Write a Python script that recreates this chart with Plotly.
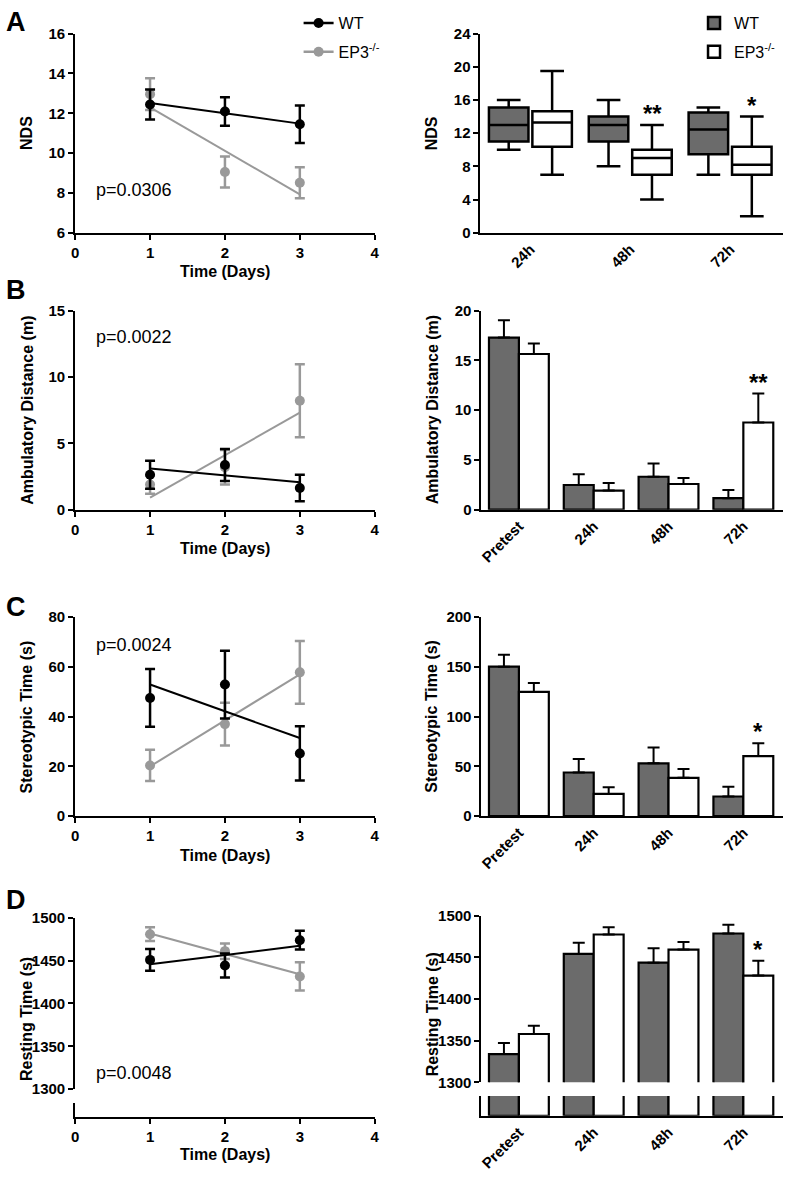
import plotly.graph_objects as go

W, H = 788, 1180
FONT = "Liberation Sans"
BLACK = "#000000"
GRAY = "#999999"
WT_FILL = "#6b6b6b"

# ---------------- data ----------------
days = [1, 2, 3]
fit_days = [1, 3]

# A: NDS
nds_wt_mean = [12.44, 12.09, 11.45]
nds_wt_sem = [0.75, 0.72, 0.94]
nds_ep_mean = [12.96, 9.05, 8.51]
nds_ep_sem = [0.8, 0.78, 0.78]
nds_wt_fit = [12.52, 11.48]
nds_ep_fit = [12.3, 7.93]

box_times = ["24h", "48h", "72h"]
box_wt_min = [10, 8, 7]
box_wt_q1 = [11, 11, 9.45]
box_wt_med = [13, 13, 12.45]
box_wt_q3 = [15.1, 14, 14.5]
box_wt_max = [16, 16, 15.1]
box_ep_min = [7, 4, 2]
box_ep_q1 = [10.35, 7, 7]
box_ep_med = [13.3, 9, 8.2]
box_ep_q3 = [14.65, 10, 10.35]
box_ep_max = [19.5, 13, 14]
box_sig = ["", "**", "*"]

# B: Ambulatory distance
amb_wt_mean = [2.63, 3.37, 1.64]
amb_wt_sem = [1.05, 1.2, 1.0]
amb_ep_mean = [1.9, 3.2, 8.21]
amb_ep_sem = [0.7, 1.3, 2.75]
amb_wt_fit = [3.1, 2.06]
amb_ep_fit = [0.9, 7.31]

bar_times = ["Pretest", "24h", "48h", "72h"]
amb_bar_wt = [17.29, 2.48, 3.31, 1.16]
amb_bar_wt_err = [1.75, 1.09, 1.32, 0.82]
amb_bar_ep = [15.64, 1.92, 2.58, 8.76]
amb_bar_ep_err = [1.05, 0.76, 0.6, 2.91]
amb_sig = ["", "", "", "**"]

# C: Stereotypic time
ste_wt_mean = [47.5, 52.9, 25.2]
ste_wt_sem = [11.6, 13.6, 10.9]
ste_ep_mean = [20.4, 37.0, 57.8]
ste_ep_sem = [6.3, 8.6, 12.6]
ste_wt_fit = [52.9, 31.4]
ste_ep_fit = [20.0, 57.0]

ste_bar_wt = [150.2, 43.9, 53.1, 19.8]
ste_bar_wt_err = [11.9, 13.5, 15.8, 9.9]
ste_bar_ep = [124.8, 22.4, 38.6, 60.4]
ste_bar_ep_err = [8.9, 6.6, 8.9, 12.9]
ste_sig = ["", "", "", "*"]

# D: Resting time
rest_wt_mean = [1450.8, 1444.2, 1473.8]
rest_wt_sem = [12.7, 14.0, 11.0]
rest_ep_mean = [1480.8, 1461.0, 1431.5]
rest_ep_sem = [8.0, 9.0, 16.5]
rest_wt_fit = [1445.8, 1467.3]
rest_ep_fit = [1481.5, 1434.0]

rest_bar_wt = [1333.9, 1454.2, 1443.6, 1478.7]
rest_bar_wt_err = [13.4, 13.4, 17.4, 10.6]
rest_bar_ep = [1358.0, 1477.5, 1459.4, 1428.2]
rest_bar_ep_err = [9.9, 8.7, 9.1, 17.8]
rest_sig = ["", "", "", "*"]

p_values = ["p=0.0306", "p=0.0022", "p=0.0024", "p=0.0048"]
panel_letters = ["A", "B", "C", "D"]


# ---------------- helpers ----------------
def fx(p):
    return p / W


def fy(p):
    return 1 - p / H


tick_font = dict(family=FONT, size=15, color=BLACK, weight="bold")

fig = go.Figure()
annotations = []


def base_axis(**kw):
    d = dict(showline=True, linewidth=2, linecolor=BLACK, showgrid=False,
             zeroline=False, ticks="outside", ticklen=5, tickwidth=2,
             tickcolor=BLACK, tickfont=tick_font, fixedrange=True)
    d.update(kw)
    return d


def line_panel(ax, wt_m, wt_s, ep_m, ep_s, wt_fit, ep_fit):
    xa, ya = ax
    for m, s, fit, col in [(ep_m, ep_s, ep_fit, GRAY), (wt_m, wt_s, wt_fit, BLACK)]:
        fig.add_trace(go.Scatter(
            x=days, y=m, mode="markers", xaxis=xa, yaxis=ya,
            marker=dict(color=col, size=10),
            error_y=dict(type="data", array=s, visible=True, color=col,
                         thickness=2.5, width=5),
            showlegend=False, hoverinfo="skip"))
        fig.add_trace(go.Scatter(
            x=fit_days, y=fit, mode="lines", xaxis=xa, yaxis=ya,
            line=dict(color=col, width=2), showlegend=False, hoverinfo="skip"))


def bar_panel(ax, wt, wt_e, ep, ep_e):
    xa, ya = ax
    for vals, errs, fill, og in [(wt, wt_e, WT_FILL, "a"), (ep, ep_e, "white", "b")]:
        fig.add_trace(go.Bar(
            x=bar_times, y=vals, xaxis=xa, yaxis=ya, offsetgroup=og,
            marker=dict(color=fill, line=dict(color=BLACK, width=2.2)),
            error_y=dict(type="data", array=errs, arrayminus=[0] * len(errs),
                         symmetric=False, visible=True, color=BLACK,
                         thickness=2, width=6),
            showlegend=False, hoverinfo="skip"))


def sig_annots(xref, yref, cats, tops, sigs, xshift, yshift):
    for c, t, s in zip(cats, tops, sigs):
        if s:
            annotations.append(dict(
                x=c, y=t, xref=xref, yref=yref, text=s, showarrow=False,
                xanchor="center", yanchor="bottom", xshift=xshift, yshift=yshift,
                font=dict(family=FONT, size=24, color=BLACK, weight="bold")))


# ---- panel A ----
line_panel(("x", "y"), nds_wt_mean, nds_wt_sem, nds_ep_mean, nds_ep_sem,
           nds_wt_fit, nds_ep_fit)

for q1, med, q3, lo, hi, fill, name, og in [
        (box_wt_q1, box_wt_med, box_wt_q3, box_wt_min, box_wt_max, WT_FILL, "WT", "a"),
        (box_ep_q1, box_ep_med, box_ep_q3, box_ep_min, box_ep_max, "white", "EP3<sup>-/-</sup>", "b")]:
    fig.add_trace(go.Box(
        x=box_times, q1=q1, median=med, q3=q3, lowerfence=lo, upperfence=hi,
        xaxis="x2", yaxis="y2", offsetgroup=og, name=name, legendgroup="box" + og,
        fillcolor=fill, line=dict(color=BLACK, width=2.5), whiskerwidth=0.6,
        boxpoints=False, showlegend=True, legend="legend2", hoverinfo="skip"))

sig_annots("x2", "y2", box_times, box_ep_max, box_sig, 22, -4)

# ---- panel B ----
line_panel(("x3", "y3"), amb_wt_mean, amb_wt_sem, amb_ep_mean, amb_ep_sem,
           amb_wt_fit, amb_ep_fit)
bar_panel(("x4", "y4"), amb_bar_wt, amb_bar_wt_err, amb_bar_ep, amb_bar_ep_err)
sig_annots("x4", "y4", bar_times, [v + e for v, e in zip(amb_bar_ep, amb_bar_ep_err)],
           amb_sig, 15, -4)

# ---- panel C ----
line_panel(("x5", "y5"), ste_wt_mean, ste_wt_sem, ste_ep_mean, ste_ep_sem,
           ste_wt_fit, ste_ep_fit)
bar_panel(("x6", "y6"), ste_bar_wt, ste_bar_wt_err, ste_bar_ep, ste_bar_ep_err)
sig_annots("x6", "y6", bar_times, [v + e for v, e in zip(ste_bar_ep, ste_bar_ep_err)],
           ste_sig, 15, -4)

# ---- panel D ----
line_panel(("x7", "y7"), rest_wt_mean, rest_wt_sem, rest_ep_mean, rest_ep_sem,
           rest_wt_fit, rest_ep_fit)
fig.add_trace(go.Scatter(x=[None], y=[None], xaxis="x7", yaxis="y8",
                         showlegend=False, hoverinfo="skip"))
bar_panel(("x8", "y9"), rest_bar_wt, rest_bar_wt_err, rest_bar_ep, rest_bar_ep_err)
# lower stub of the broken axis: same bars, clipped
for vals, fill, og in [(rest_bar_wt, WT_FILL, "a"), (rest_bar_ep, "white", "b")]:
    fig.add_trace(go.Bar(
        x=bar_times, y=vals, xaxis="x8", yaxis="y10", offsetgroup=og,
        marker=dict(color=fill, line=dict(color=BLACK, width=2.2)),
        showlegend=False, hoverinfo="skip"))
sig_annots("x8", "y9", bar_times, [v + e for v, e in zip(rest_bar_ep, rest_bar_ep_err)],
           rest_sig, 15, -4)

# legend entries for the line panels
for col, name, grp in [(BLACK, "WT", "la"), (GRAY, "EP3<sup>-/-</sup>", "lb")]:
    fig.add_trace(go.Scatter(
        x=[None], y=[None], mode="lines+markers", xaxis="x", yaxis="y", name=name,
        legendgroup=grp,
        line=dict(color=col, width=2.5), marker=dict(color=col, size=10),
        showlegend=True, legend="legend"))

# ---------------- axes ----------------
LX = [72, 375]
RX = [482, 788]
rows = {"A": (25, 227), "B": (306, 508), "C": (617, 819)}

layout_axes = {}
left_ranges = {"A": ([6, 16], 2), "B": ([0, 15], 5), "C": ([0, 80], 20)}
right_ranges = {"A": ([0, 24], 4), "B": ([0, 20], 5), "C": ([0, 200], 50)}
idx = {"A": (1, 2), "B": (3, 4), "C": (5, 6)}

for key, (top, bot) in rows.items():
    li, ri = idx[key]
    lname = "" if li == 1 else str(li)
    rname = str(ri)
    rng, dt = left_ranges[key]
    layout_axes["xaxis" + lname] = base_axis(
        domain=[fx(LX[0]), fx(LX[1])], range=[0, 4], tickvals=[0, 1, 2, 3, 4],
        anchor="y" + lname)
    layout_axes["yaxis" + lname] = base_axis(
        domain=[fy(bot), fy(top)], range=rng, dtick=dt, tick0=0, anchor="x" + lname)
    rrng, rdt = right_ranges[key]
    ncat = 3 if key == "A" else 4
    layout_axes["xaxis" + rname] = base_axis(
        domain=[fx(RX[0] if key == "A" else 483), fx(RX[1])], type="category",
        range=[-0.5, ncat - 0.47], ticks="", tickangle=-45, anchor="y" + rname)
    layout_axes["yaxis" + rname] = base_axis(
        domain=[fy(bot), fy(top)], range=rrng, dtick=rdt, tick0=0, anchor="x" + rname)

# D left
layout_axes["xaxis7"] = base_axis(domain=[fx(LX[0]), fx(LX[1])], range=[0, 4],
                                  tickvals=[0, 1, 2, 3, 4], anchor="y8")
layout_axes["yaxis7"] = base_axis(domain=[fy(1096), fy(922)], range=[1300, 1500],
                                  dtick=50, tick0=1300, anchor="x7")
layout_axes["yaxis8"] = base_axis(domain=[fy(1124), fy(1110)], range=[0, 1],
                                  ticks="", showticklabels=False, anchor="x7")
# D right
layout_axes["xaxis8"] = base_axis(domain=[fx(483), fx(RX[1])], type="category",
                                  range=[-0.5, 3.53], ticks="", tickangle=-45, anchor="y10")
layout_axes["yaxis9"] = base_axis(domain=[fy(1089), fy(920)], range=[1300, 1500],
                                  dtick=50, tick0=1300, anchor="x8")
layout_axes["yaxis10"] = base_axis(domain=[fy(1123), fy(1103)], range=[0, 1],
                                   ticks="", showticklabels=False, anchor="x8")

# ---------------- text annotations ----------------
title_font = dict(family=FONT, size=16, color=BLACK, weight="bold")
x_title_y = [227 + 39, 508 + 39, 819 + 40, 1124 + 38]
for yy in x_title_y:
    annotations.append(dict(x=fx((LX[0] + LX[1]) / 2), y=fy(yy), xref="paper", yref="paper",
                            text="Time (Days)", showarrow=False, xanchor="center",
                            yanchor="middle", font=title_font))

y_titles = [
    ("NDS", 22, 126, 432, 126),
    ("Ambulatory Distance (m)", 23, 407, 433, 407),
    ("Stereotypic Time (s)", 23, 718, 433, 718),
    ("Resting Time (s)", 22, 1025, 433, 1020),
]
for txt, lx, ly, rx, ry in y_titles:
    for xx, yy in [(lx, ly), (rx, ry)]:
        annotations.append(dict(x=fx(xx), y=fy(yy), xref="paper", yref="paper", text=txt,
                                showarrow=False, textangle=-90, xanchor="center",
                                yanchor="middle", font=title_font))

p_y = [184, 333, 645, 1080]
for txt, yy in zip(p_values, p_y):
    annotations.append(dict(x=fx(91), y=fy(yy), xref="paper", yref="paper", text=txt,
                            showarrow=False, xanchor="left", yanchor="middle",
                            font=dict(family=FONT, size=18, color=BLACK)))

letter_y = [13, 285, 607, 904]
for txt, yy in zip(panel_letters, letter_y):
    annotations.append(dict(x=fx(0), y=fy(yy), xref="paper", yref="paper", text=txt,
                            showarrow=False, xanchor="left", yanchor="middle",
                            font=dict(family=FONT, size=27, color=BLACK, weight="bold")))

legend_font = dict(family=FONT, size=16, color=BLACK)
fig.update_layout(
    width=W, height=H, margin=dict(l=0, r=0, t=0, b=0),
    paper_bgcolor="white", plot_bgcolor="white",
    font=dict(family=FONT, color=BLACK),
    boxmode="group", boxgap=0.13, boxgroupgap=0.09,
    barmode="group", bargap=0.2, bargroupgap=0,
    legend=dict(x=fx(298), y=fy(-3), xanchor="left", yanchor="top", font=legend_font,
                bgcolor="rgba(0,0,0,0)", tracegroupgap=5),
    legend2=dict(x=fx(698), y=fy(-3), xanchor="left", yanchor="top", font=legend_font,
                 bgcolor="rgba(0,0,0,0)", tracegroupgap=5),
    annotations=annotations,
    showlegend=True,
    **layout_axes,
)

fig.write_html("out.html", config={"displayModeBar": False},
               post_script="document.body.style.margin='0';document.body.style.overflow='hidden';")
